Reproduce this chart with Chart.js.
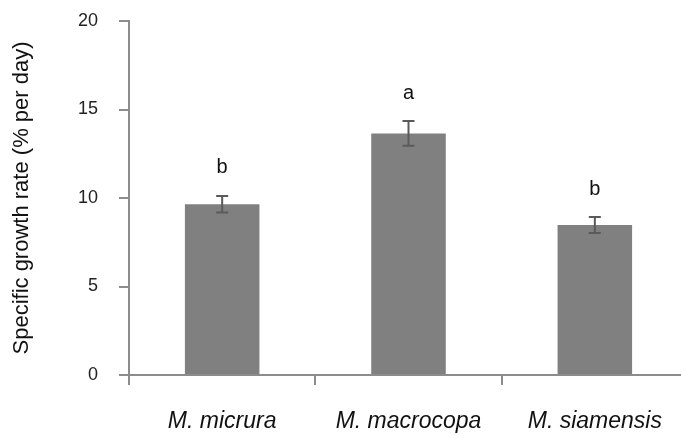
<!DOCTYPE html>
<html>
<head>
<meta charset="utf-8">
<script src="https://cdn.jsdelivr.net/npm/chart.js@4"></script>
<style>
  html, body { margin: 0; padding: 0; background: #fff; overflow: hidden; }
  #wrap { position: relative; width: 690px; height: 435px; }
</style>
</head>
<body>
<div id="wrap"><canvas id="chart"></canvas></div>
<script>
/* Specific growth rate per species: bars + SE whiskers + significance letters. */

const species = ['M. micrura', 'M. macrocopa', 'M. siamensis'];
const growthRate = [9.65, 13.65, 8.47];
const stdError = [0.47, 0.7, 0.45];
const sigLetters = ['b', 'a', 'b'];
const yTicks = [0, 5, 10, 15, 20];

const FONT = '"Liberation Sans", Arial, sans-serif';
const AXIS = '#8c8c8c';

// Whiskers and letters are drawn through the chart's own scales.
const errorBars = {
  id: 'errorBars',
  afterDatasetsDraw(chart) {
    const { ctx, scales: { x, y } } = chart;
    ctx.save();
    ctx.strokeStyle = '#5a5a5a';
    ctx.lineWidth = 2;
    growthRate.forEach((v, i) => {
      const cx = x.getPixelForValue(i);
      const top = y.getPixelForValue(v + stdError[i]);
      const bot = y.getPixelForValue(v - stdError[i]);
      ctx.beginPath();
      ctx.moveTo(cx, top); ctx.lineTo(cx, bot);
      ctx.moveTo(cx - 6, top); ctx.lineTo(cx + 6, top);
      ctx.moveTo(cx - 6, bot); ctx.lineTo(cx + 6, bot);
      ctx.stroke();

      ctx.fillStyle = '#111';
      ctx.font = '20px ' + FONT;
      ctx.textAlign = 'center';
      ctx.textBaseline = 'middle';
      ctx.fillText(sigLetters[i], cx, top - 28);
    });
    ctx.restore();
  },
};

new Chart(document.getElementById('chart'), {
  type: 'bar',
  data: {
    labels: species,
    datasets: [{
      data: growthRate,
      backgroundColor: '#808080',
      borderWidth: 0,
      barPercentage: 0.4,
      categoryPercentage: 1,
    }],
  },
  options: {
    responsive: true,
    maintainAspectRatio: false,
    animation: false,
    layout: { padding: { top: 21, right: 2, left: 0, bottom: 0 } },
    plugins: { legend: { display: false }, tooltip: { enabled: false } },
    scales: {
      x: {
        offset: true,
        grid: {
          offset: true,
          drawOnChartArea: false,
          color: AXIS,
          lineWidth: 2,
          tickLength: 10,
        },
        border: { color: AXIS, width: 2 },
        ticks: {
          color: '#111',
          padding: 23,
          font: { family: FONT, size: 23, style: 'italic' },
        },
        afterFit(scale) { scale.height = 60; },
      },
      y: {
        min: 0,
        max: 20,
        afterBuildTicks(scale) { scale.ticks = yTicks.map((v) => ({ value: v })); },
        grid: {
          drawOnChartArea: false,
          color: AXIS,
          lineWidth: 2,
          tickLength: 10,
        },
        border: { color: AXIS, width: 2 },
        ticks: {
          color: '#222',
          padding: 21,
          font: { family: FONT, size: 18 },
        },
        title: {
          display: true,
          text: 'Specific growth rate (% per day)',
          color: '#111',
          font: { family: FONT, size: 22 },
          padding: { top: 9, bottom: 0 },
        },
        afterFit(scale) {
          scale.width = 129;
          // tick padding is only meant to push labels sideways, not down the top
          scale.paddingTop = 0;
          scale.paddingBottom = 0;
        },
      },
    },
  },
  plugins: [errorBars],
});
</script>
</body>
</html>
